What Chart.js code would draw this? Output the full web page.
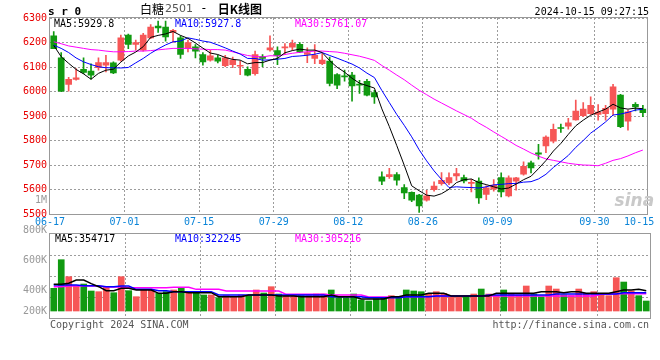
<!DOCTYPE html>
<html><head><meta charset="utf-8">
<script src="https://cdn.jsdelivr.net/npm/chart.js@4.4.1/dist/chart.umd.min.js"></script>
<style>
html,body{margin:0;padding:0;background:#fff;}
#wrap{position:relative;width:660px;height:360px;overflow:hidden;background:#fff;}
#pc{position:absolute;left:0;top:0;}
#vc{position:absolute;left:0;top:195px;}
</style></head><body>
<div id="wrap"><canvas id="pc" width="660" height="232"></canvas><canvas id="vc" width="660" height="165"></canvas></div>
<script>
// ---------- DATA ----------
const dates = ['06-17','06-18','06-19','06-20','06-21','06-24','06-25','06-26','06-27','06-28',
 '07-01','07-02','07-03','07-04','07-05','07-08','07-09','07-10','07-11','07-12',
 '07-15','07-16','07-17','07-18','07-19','07-22','07-23','07-24','07-25','07-26',
 '07-29','07-30','07-31','08-01','08-02','08-05','08-06','08-07','08-08','08-09',
 '08-12','08-13','08-14','08-15','08-16','08-19','08-20','08-21','08-22','08-23',
 '08-26','08-27','08-28','08-29','08-30','09-02','09-03','09-04','09-05','09-06',
 '09-09','09-10','09-11','09-12','09-13','09-18','09-19','09-20','09-23','09-24',
 '09-25','09-26','09-27','09-30','10-08','10-09','10-10','10-11','10-14','10-15'];
const tickDates = ['06-17','07-01','07-15','07-29','08-12','08-26','09-09','09-30','10-15'];
const gridDates = ['07-01','07-15','07-29','08-12','08-26','09-09','09-30'];

const open  = [6227,6137,6029,6049,6091,6083,6097,6107,6117,6128,6230,6192,6169,6219,6267,6263,6241,6219,6176,6182,
 6151,6128,6137,6105,6110,6103,6091,6073,6143,6170,6167,6178,6181,6193,6151,6135,6114,6124,6069,6063,
 6067,6029,6042,5996,5652,5652,5661,5608,5588,5577,5556,5599,5624,5627,5655,5649,5625,5634,5580,5601,
 5649,5574,5634,5663,5709,5750,5778,5797,5853,5859,5884,5901,5910,5906,5910,5928,5985,5879,5948,5928];
const high  = [6245,6159,6058,6094,6137,6113,6137,6148,6121,6230,6234,6210,6237,6273,6287,6287,6254,6227,6210,6192,
 6159,6169,6148,6148,6141,6124,6101,6165,6151,6227,6182,6196,6210,6200,6178,6192,6155,6141,6073,6087,
 6078,6046,6050,6005,5672,5686,5669,5620,5590,5580,5597,5631,5669,5668,5686,5659,5642,5648,5615,5641,
 5668,5656,5650,5713,5716,5784,5819,5867,5867,5890,5965,5955,5978,5947,5944,6029,5988,5924,5955,5944];
const low   = [6175,5999,6001,6046,6073,6050,6087,6080,6073,6124,6175,6169,6165,6216,6241,6205,6200,6135,6162,6137,
 6107,6124,6117,6101,6097,6069,6064,6067,6101,6165,6110,6151,6169,6159,6118,6114,6110,6023,6012,6042,
 5961,5992,5982,5951,5620,5645,5618,5563,5550,5506,5552,5593,5618,5620,5637,5627,5590,5543,5559,5593,
 5570,5570,5597,5659,5668,5724,5750,5790,5833,5846,5883,5897,5906,5883,5883,5903,5852,5842,5921,5897];
const close = [6175,6001,6050,6056,6078,6067,6118,6118,6076,6219,6192,6200,6230,6263,6260,6223,6250,6151,6200,6165,
 6121,6146,6124,6137,6128,6107,6067,6151,6135,6178,6146,6181,6197,6162,6159,6148,6128,6033,6026,6060,
 6023,6026,5985,5978,5634,5661,5638,5586,5556,5533,5574,5614,5637,5649,5665,5635,5627,5566,5607,5618,
 5590,5648,5648,5695,5688,5744,5814,5846,5849,5872,5920,5928,5944,5916,5931,6019,5856,5917,5937,5914];

const ma5  = [6188,6142,6115,6090,6072,6050,6074,6087,6091,6120,6145,6161,6183,6221,6229,6235,6245,6229,6217,6198,
 6177,6157,6151,6139,6131,6128,6113,6118,6118,6128,6135,6158,6167,6173,6169,6169,6159,6126,6099,6079,
 6054,6034,6024,6014,5929,5857,5779,5699,5615,5595,5577,5573,5583,5601,5628,5640,5643,5628,5620,5611,
 5602,5606,5622,5640,5654,5685,5718,5757,5788,5825,5860,5883,5903,5916,5928,5948,5933,5928,5932,5929.8];
const ma10 = [6189,6176,6159,6137,6121,6110,6101,6097,6097,6096,6098,6117,6135,6156,6174,6190,6203,6206,6219,6213,
 6206,6201,6190,6178,6165,6153,6135,6135,6128,6129,6132,6135,6143,6145,6148,6152,6159,6147,6136,6124,
 6112,6096,6075,6057,6004,5955,5906,5862,5815,5762,5717,5676,5641,5608,5611,5609,5608,5606,5611,5619,
 5621,5624,5625,5630,5632,5643,5662,5690,5714,5739,5772,5800,5830,5852,5876,5904,5908,5915,5924,5927.8];
const ma30 = [6203,6195,6186,6181,6176,6171,6169,6165,6162,6162,6163,6165,6165,6167,6170,6173,6176,6176,6176,6174,
 6173,6171,6171,6169,6162,6154,6147,6143,6141,6146,6145,6151,6156,6160,6162,6165,6165,6163,6161,6156,
 6150,6144,6136,6127,6106,6087,6067,6048,6026,6005,5987,5969,5953,5937,5921,5906,5891,5871,5854,5835,
 5817,5799,5780,5765,5749,5736,5725,5719,5713,5707,5703,5700,5699,5697,5707,5719,5726,5737,5750,5761.07];

const volume = [399000,903000,604000,440000,475000,352000,340000,428000,322000,604000,
 358000,252000,370000,370000,311000,340000,370000,411000,340000,311000,
 282000,282000,235000,270000,252000,282000,270000,370000,317000,428000,
 299000,264000,270000,270000,270000,299000,299000,370000,252000,235000,
 299000,194000,176000,211000,235000,270000,252000,370000,352000,340000,
 311000,340000,311000,270000,264000,252000,299000,387000,299000,264000,
 370000,311000,282000,440000,299000,252000,440000,387000,282000,270000,
 387000,311000,340000,293000,270000,586000,510000,352000,270000,176000];
const volMa5 = [470000,470000,490000,546000,546000,481000,428000,358000,358000,399000,
 399000,370000,370000,370000,311000,311000,340000,340000,322000,322000,
 322000,322000,252000,252000,252000,252000,282000,282000,282000,282000,
 264000,264000,264000,252000,252000,252000,252000,282000,252000,252000,
 252000,211000,211000,211000,211000,252000,252000,282000,282000,282000,
 311000,311000,311000,264000,264000,264000,264000,264000,264000,311000,
 311000,311000,311000,311000,311000,340000,340000,340000,322000,340000,
 340000,311000,311000,311000,311000,340000,370000,370000,381000,354717];
const volMa10 = [458000,458000,458000,458000,445000,445000,445000,428000,428000,440000,
 440000,381000,381000,381000,358000,358000,340000,340000,340000,340000,
 340000,340000,282000,282000,282000,282000,282000,282000,282000,282000,
 282000,282000,282000,282000,282000,282000,282000,252000,252000,252000,
 252000,252000,235000,235000,235000,235000,235000,252000,252000,252000,
 252000,264000,264000,264000,264000,264000,264000,264000,282000,282000,
 282000,282000,282000,282000,282000,282000,282000,299000,299000,299000,
 299000,299000,299000,299000,299000,299000,322000,322000,322000,322245];
const volMa30 = [428000,428000,440000,440000,440000,440000,440000,422000,422000,422000,
 411000,411000,411000,411000,411000,411000,416000,416000,416000,381000,
 381000,381000,381000,352000,352000,352000,352000,352000,352000,352000,
 352000,293000,293000,293000,293000,293000,293000,282000,282000,282000,
 282000,282000,246000,246000,246000,246000,246000,252000,252000,252000,
 252000,264000,264000,264000,264000,264000,264000,264000,264000,264000,
 264000,264000,264000,264000,264000,264000,264000,264000,264000,264000,
 264000,264000,264000,293000,293000,305000,305000,305000,305000,305216];
const volTickLabels = ['1M','800K','600K','400K','200K'];

// ---------- STYLE ----------
const RED = '#f65656', GREEN = '#119a11';
const MONO = '"DejaVu Sans Mono", "Liberation Mono", monospace';
const GRID = '#9c9c9c';
Chart.defaults.font.family = MONO;
Chart.defaults.font.size = 10;
Chart.defaults.animation = false;
const upColor = ctx => close[ctx.dataIndex] >= open[ctx.dataIndex] ? RED : GREEN;
const gridColor = ctx => (ctx.index !== undefined && gridDates.includes(dates[ctx.index])) ? GRID : 'rgba(0,0,0,0)';

function txt(ctx, s, x, y, color, align, font) {
  ctx.save(); ctx.font = font || ('10px ' + MONO); ctx.fillStyle = color;
  ctx.textAlign = align || 'left'; ctx.textBaseline = 'middle'; ctx.fillText(s, x, y); ctx.restore();
}
function box(chart) {
  const a = chart.chartArea, c = chart.ctx;
  c.save(); c.strokeStyle = '#999'; c.lineWidth = 1;
  c.strokeRect(Math.round(a.left) - 0.5, Math.round(a.top) - 0.5, Math.round(a.right - a.left) + 1, Math.round(a.bottom - a.top) + 1);
  c.restore();
}

// ---------- PRICE CHART ----------
const pricePlugin = {
  id: 'priceDeco',
  beforeDraw(chart) { const c = chart.ctx; c.save(); c.fillStyle = '#fff'; c.fillRect(0, 0, chart.width, chart.height); c.restore(); },
  afterDatasetsDraw(chart) { box(chart); },
  afterDraw(chart) {
    const c = chart.ctx, a = chart.chartArea;
    txt(c, 's r 0', a.left - 2, 12, '#000', 'left', 'bold 11px ' + MONO);
    let x = 140;
    c.save(); c.textBaseline = 'middle';
    c.font = '12px "Noto Sans CJK SC"'; c.fillStyle = '#000'; c.fillText('白糖', x, 9); x += c.measureText('白糖').width + 1;
    c.font = '11px "DejaVu Sans"'; c.fillStyle = '#555'; c.fillText('2501', x, 9); x += c.measureText('2501').width;
    c.font = '12px ' + MONO; c.fillStyle = '#000'; c.fillText(' - ', x, 9); x += c.measureText(' - ').width + 3;
    c.font = 'bold 12px "Noto Sans CJK SC"'; c.fillText('日K线图', x, 9);
    c.restore();
    txt(c, '2024-10-15 09:27:15', 649, 12, '#000', 'right');
    txt(c, 'MA5:' + ma5[ma5.length - 1].toFixed(1), a.left + 4, a.top + 6, '#000');
    txt(c, 'MA10:' + ma10[ma10.length - 1].toFixed(1), a.left + 125, a.top + 6, '#0000ff');
    txt(c, 'MA30:' + ma30[ma30.length - 1].toFixed(2), a.left + 245, a.top + 6, '#ff00ff');
    txt(c, 'sina', a.right - 32, a.bottom - 12, '#c9c9c9', 'left', 'italic bold 17px "DejaVu Sans"');
  }
};

new Chart(document.getElementById('pc'), {
  data: {
    labels: dates,
    datasets: [
      { type: 'line', data: ma5, borderColor: '#000', borderWidth: 1, pointRadius: 0, tension: 0, order: 0 },
      { type: 'line', data: ma10, borderColor: '#0000ff', borderWidth: 1, pointRadius: 0, tension: 0, order: 0 },
      { type: 'line', data: ma30, borderColor: '#ff00ff', borderWidth: 1, pointRadius: 0, tension: 0, order: 0 },
      { type: 'bar', data: open.map((o, i) => [o, close[i]]), backgroundColor: upColor, barThickness: 6, minBarLength: 1, grouped: false, order: 1 },
      { type: 'bar', data: low.map((l, i) => [l, high[i]]), backgroundColor: upColor, barThickness: 1, grouped: false, order: 2 }
    ]
  },
  options: {
    responsive: false, devicePixelRatio: 1, animation: false,
    layout: { padding: { top: 18, right: 10, left: 0, bottom: 0 } },
    plugins: { legend: { display: false }, tooltip: { enabled: false } },
    scales: {
      x: {
        type: 'category', offset: true,
        grid: { offset: true, color: gridColor, drawTicks: false, lineWidth: 1 },
        border: { display: false, dash: [2, 2] },
        ticks: { autoSkip: false, maxRotation: 0, minRotation: 0, padding: 2, labelOffset: -3.75, color: '#0a84d8',
          callback: (v, i) => tickDates.includes(dates[i]) ? dates[i] : '' },
        afterFit: s => { s.height = 18; }
      },
      y: {
        min: 5500, max: 6300,
        ticks: { stepSize: 100, color: '#e80000', padding: 3, callback: v => String(v) },
        grid: { color: GRID, drawTicks: false },
        border: { display: false, dash: [2, 2] },
        afterFit: s => { s.width = 50; }
      }
    }
  },
  plugins: [pricePlugin]
});

// ---------- VOLUME CHART ----------
const volPlugin = {
  id: 'volDeco',
  afterDatasetsDraw(chart) { box(chart); },
  afterDraw(chart) {
    const c = chart.ctx, a = chart.chartArea;
    const ys = [a.top - 34, a.top - 4, a.top + 26, a.top + 56.7, a.top + 77];
    volTickLabels.forEach((s, i) => txt(c, s, a.left - 3, ys[i], '#999', 'right'));
    txt(c, 'MA5:' + volMa5[volMa5.length - 1], a.left + 5, a.top + 5, '#000');
    txt(c, 'MA10:' + volMa10[volMa10.length - 1], a.left + 125, a.top + 5, '#0000ff');
    txt(c, 'MA30:' + volMa30[volMa30.length - 1], a.left + 245, a.top + 5, '#ff00ff');
    txt(c, 'Copyright 2024 SINA.COM', a.left, a.bottom + 7, '#555');
    txt(c, 'http://finance.sina.com.cn', 649, a.bottom + 7, '#555', 'right');
  }
};

new Chart(document.getElementById('vc'), {
  data: {
    labels: dates,
    datasets: [
      { type: 'line', data: volMa5, borderColor: '#000', borderWidth: 1.5, pointRadius: 0, tension: 0, order: 0 },
      { type: 'line', data: volMa10, borderColor: '#0000ff', borderWidth: 1.5, pointRadius: 0, tension: 0, order: 0 },
      { type: 'line', data: volMa30, borderColor: '#ff00ff', borderWidth: 1.5, pointRadius: 0, tension: 0, order: 0 },
      { type: 'bar', data: volume, backgroundColor: upColor, barThickness: 6, grouped: false, order: 1 }
    ]
  },
  options: {
    responsive: false, devicePixelRatio: 1, animation: false,
    layout: { padding: { top: 39, right: 10, left: 0, bottom: 42 } },
    plugins: { legend: { display: false }, tooltip: { enabled: false } },
    scales: {
      x: {
        type: 'category', offset: true,
        grid: { offset: true, color: gridColor, drawTicks: false },
        border: { display: false, dash: [2, 2] },
        ticks: { display: false },
        afterFit: s => { s.height = 0; }
      },
      y: {
        min: -123000, max: 1355000,
        ticks: { display: false },
        grid: { color: GRID, drawTicks: false },
        border: { display: false, dash: [2, 2] },
        afterBuildTicks: s => { const st = (s.max - s.min) / 4; s.ticks = [1, 2, 3].map(k => ({ value: s.min + st * k })); },
        afterFit: s => { s.width = 50; }
      }
    }
  },
  plugins: [volPlugin]
});
</script>
</body></html>
